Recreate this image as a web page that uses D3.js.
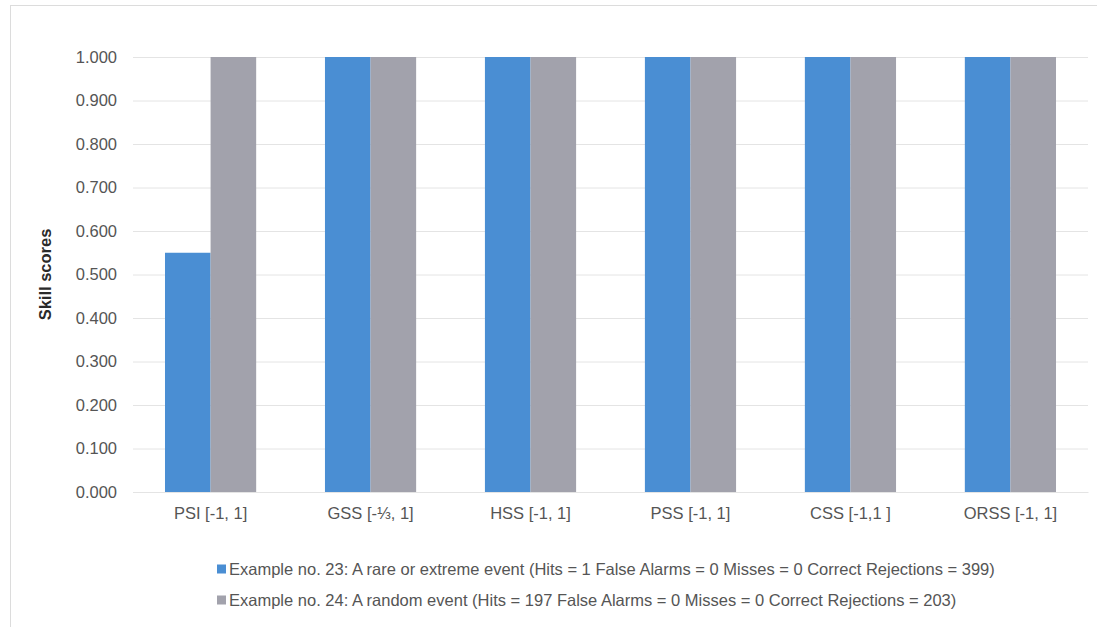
<!DOCTYPE html>
<html>
<head>
<meta charset="utf-8">
<script src="https://cdn.jsdelivr.net/npm/d3@7"></script>
<style>
  body { margin: 0; background: #fff; }
  text { font-family: "Liberation Sans", Arial, sans-serif; }
</style>
</head>
<body>
<div id="chart"></div>
<script>
// Data
var categories = ["PSI [-1, 1]", "GSS [-\u2153, 1]", "HSS [-1, 1]", "PSS [-1, 1]", "CSS [-1,1 ]", "ORSS [-1, 1]"];
var seriesNames = [
  "Example no. 23: A rare or extreme event (Hits = 1 False Alarms = 0 Misses = 0 Correct Rejections = 399)",
  "Example no. 24: A random event (Hits = 197 False Alarms = 0 Misses = 0 Correct Rejections = 203)"
];
var example23 = [0.550, 1.000, 1.000, 1.000, 1.000, 1.000];
var example24 = [1.000, 1.000, 1.000, 1.000, 1.000, 1.000];
var yTicks = [0, 0.1, 0.2, 0.3, 0.4, 0.5, 0.6, 0.7, 0.8, 0.9, 1.0];
var colors = ["#4a8ed3", "#a2a2ac"];

var svgWidth = 1097;
var svgHeight = 627;

var margin = { top: 57, right: 9, bottom: 135, left: 133 };
var width = svgWidth - margin.left - margin.right;
var height = svgHeight - margin.top - margin.bottom;

var svg = d3.select("#chart")
  .append("svg")
  .attr("width", svgWidth)
  .attr("height", svgHeight);

// outer frame of the chart area
svg.append("rect")
  .attr("x", 10.5).attr("y", 5.5)
  .attr("width", 1100).attr("height", 640)
  .attr("fill", "none")
  .attr("stroke", "#dcdcdc");

var chartGroup = svg.append("g")
  .attr("transform", `translate(${margin.left}, ${margin.top})`);

// scales
var xScale = d3.scaleBand()
  .domain(categories)
  .range([0, width])
  .paddingInner(0.43)
  .paddingOuter(0.2);

var xInner = d3.scaleBand()
  .domain([0, 1])
  .range([0, xScale.bandwidth()]);

var yScale = d3.scaleLinear()
  .domain([0, 1])
  .range([height, 0]);

// gridlines
chartGroup.append("g")
  .selectAll("line")
  .data(yTicks)
  .enter()
  .append("line")
  .attr("x1", 0)
  .attr("x2", width)
  .attr("y1", d => yScale(d) + 0.5)
  .attr("y2", d => yScale(d) + 0.5)
  .attr("stroke", "#e4e4e4")
  .attr("stroke-width", 1);

// y axis
var leftAxis = d3.axisLeft(yScale)
  .tickValues(yTicks)
  .tickFormat(d3.format(".3f"))
  .tickSize(0)
  .tickPadding(16);

var yAxis = chartGroup.append("g").call(leftAxis);
yAxis.select(".domain").remove();
yAxis.selectAll("text")
  .style("font-size", "16.5px")
  .attr("fill", "#555");

// bars
var groups = chartGroup.selectAll(".cat")
  .data(categories)
  .enter()
  .append("g")
  .attr("class", "cat")
  .attr("transform", d => `translate(${xScale(d)}, 0)`);

groups.selectAll("rect")
  .data((d, i) => [example23[i], example24[i]])
  .enter()
  .append("rect")
  .attr("x", (d, j) => xInner(j))
  .attr("width", xInner.bandwidth())
  .attr("y", d => yScale(d))
  .attr("height", d => height - yScale(d))
  .attr("fill", (d, j) => colors[j]);

// x axis
var bottomAxis = d3.axisBottom(xScale)
  .tickSize(0)
  .tickPadding(15);

var xAxis = chartGroup.append("g")
  .attr("transform", `translate(0, ${height})`)
  .call(bottomAxis);
xAxis.select(".domain")
  .attr("stroke", "#e4e4e4");
xAxis.selectAll("text")
  .style("font-size", "16.5px")
  .attr("fill", "#555");

// y axis label
chartGroup.append("text")
  .attr("transform", "rotate(-90)")
  .attr("x", 0 - (height / 2))
  .attr("y", 0 - margin.left + 51)
  .attr("text-anchor", "middle")
  .style("font-size", "16.5px")
  .style("font-weight", "bold")
  .attr("fill", "#2a2a2a")
  .text("Skill scores");

// legend
var legend = svg.append("g")
  .attr("transform", "translate(217, 569)");

var legendItems = legend.selectAll("g")
  .data(seriesNames)
  .enter()
  .append("g")
  .attr("transform", (d, i) => `translate(0, ${i * 31})`);

legendItems.append("rect")
  .attr("x", 0)
  .attr("y", -4.5)
  .attr("width", 9)
  .attr("height", 9)
  .attr("fill", (d, i) => colors[i]);

legendItems.append("text")
  .attr("x", 12)
  .attr("y", 0)
  .attr("dy", "0.35em")
  .style("font-size", "16.5px")
  .attr("fill", "#555")
  .text(d => d);
</script>
</body>
</html>
